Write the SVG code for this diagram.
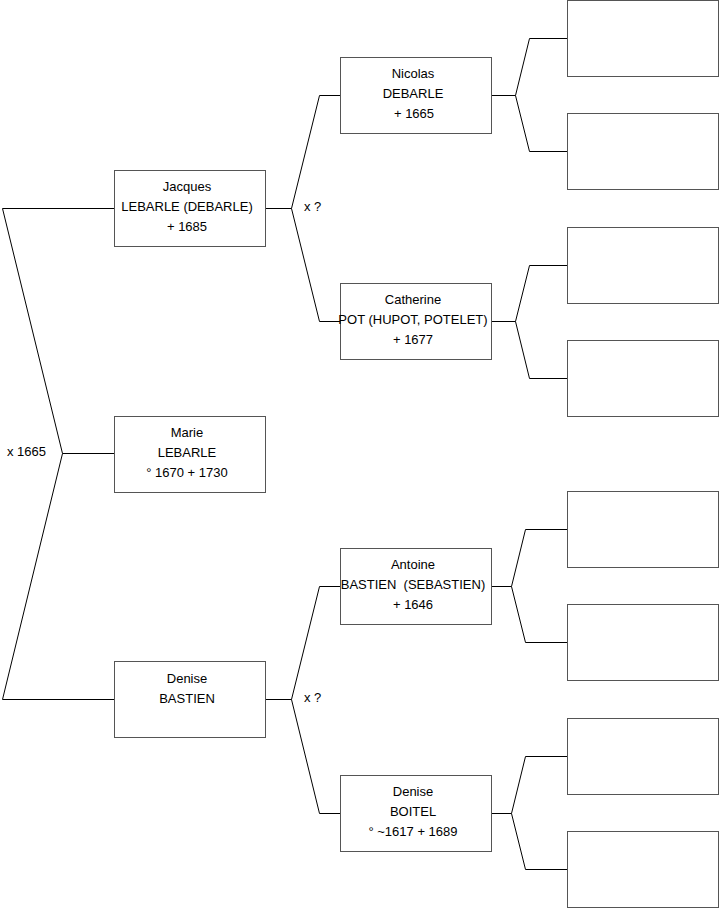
<svg xmlns="http://www.w3.org/2000/svg" width="719" height="908" viewBox="0 0 719 908">
<style>
.box{fill:#fff;stroke:#555;stroke-width:1}
.ln{fill:none;stroke:#000;stroke-width:1}
text{font-family:"Liberation Sans",Arial,sans-serif;font-size:13px;fill:#000}
.c{text-anchor:middle}
</style>
<rect width="719" height="908" fill="#fff"/>
<g id="connectors">
<polyline class="ln" points="114,208.5 2.5,208.5 62.5,453.5 114,453.5"/>
<polyline class="ln" points="62.5,453.5 2.5,699.5 114,699.5"/>
<polyline class="ln" points="265,208.5 291.5,208.5 319.5,95.5 340,95.5"/>
<polyline class="ln" points="291.5,208.5 319.5,321.5 340,321.5"/>
<polyline class="ln" points="265,699.5 291.5,699.5 319.5,586.5 340,586.5"/>
<polyline class="ln" points="291.5,699.5 319.5,813.5 340,813.5"/>
<polyline class="ln" points="491,95.5 515.5,95.5 529.5,38.5 567,38.5"/>
<polyline class="ln" points="515.5,95.5 529.5,151.5 567,151.5"/>
<polyline class="ln" points="491,321.5 515.5,321.5 529.5,265.5 567,265.5"/>
<polyline class="ln" points="515.5,321.5 529.5,378.5 567,378.5"/>
<polyline class="ln" points="491,586.5 511.5,586.5 525.5,529.5 567,529.5"/>
<polyline class="ln" points="511.5,586.5 525.5,642.5 567,642.5"/>
<polyline class="ln" points="491,813.5 511.5,813.5 525.5,756.5 567,756.5"/>
<polyline class="ln" points="511.5,813.5 525.5,869.5 567,869.5"/>
<text x="7" y="456">x 1665</text>
<text x="304" y="211">x ?</text>
<text x="304" y="702">x ?</text>
</g>
<g id="jacques">
<rect class="box" x="114.5" y="170.5" width="151" height="76"/>
<text class="c" x="187" y="191">Jacques</text>
<text class="c" x="187" y="211">LEBARLE (DEBARLE)</text>
<text class="c" x="187" y="231">+ 1685</text>
</g>
<g id="marie">
<rect class="box" x="114.5" y="416.5" width="151" height="76"/>
<text class="c" x="187" y="437">Marie</text>
<text class="c" x="187" y="457">LEBARLE</text>
<text class="c" x="187" y="477">° 1670 + 1730</text>
</g>
<g id="denise-bastien">
<rect class="box" x="114.5" y="661.5" width="151" height="76"/>
<text class="c" x="187" y="683">Denise</text>
<text class="c" x="187" y="703">BASTIEN</text>
</g>
<g id="nicolas">
<rect class="box" x="340.5" y="57.5" width="151" height="76"/>
<text class="c" x="413" y="78">Nicolas</text>
<text class="c" x="413" y="98">DEBARLE</text>
<text class="c" x="414" y="118">+ 1665</text>
</g>
<g id="catherine">
<rect class="box" x="340.5" y="283.5" width="151" height="76"/>
<text class="c" x="413" y="304">Catherine</text>
<text class="c" x="413" y="324">POT (HUPOT, POTELET)</text>
<text class="c" x="413" y="344">+ 1677</text>
</g>
<g id="antoine">
<rect class="box" x="340.5" y="548.5" width="151" height="76"/>
<text class="c" x="413" y="569">Antoine</text>
<text class="c" x="413" y="589" style="white-space:pre">BASTIEN  (SEBASTIEN)</text>
<text class="c" x="413" y="609">+ 1646</text>
</g>
<g id="denise-boitel">
<rect class="box" x="340.5" y="775.5" width="151" height="76"/>
<text class="c" x="413" y="796">Denise</text>
<text class="c" x="413" y="816">BOITEL</text>
<text class="c" x="413" y="836">° ~1617 + 1689</text>
</g>
<g id="g3-1"><rect class="box" x="567.5" y="0.5" width="151" height="76"/></g>
<g id="g3-2"><rect class="box" x="567.5" y="113.5" width="151" height="76"/></g>
<g id="g3-3"><rect class="box" x="567.5" y="227.5" width="151" height="76"/></g>
<g id="g3-4"><rect class="box" x="567.5" y="340.5" width="151" height="76"/></g>
<g id="g3-5"><rect class="box" x="567.5" y="491.5" width="151" height="76"/></g>
<g id="g3-6"><rect class="box" x="567.5" y="604.5" width="151" height="76"/></g>
<g id="g3-7"><rect class="box" x="567.5" y="718.5" width="151" height="76"/></g>
<g id="g3-8"><rect class="box" x="567.5" y="831.5" width="151" height="76"/></g>
</svg>
